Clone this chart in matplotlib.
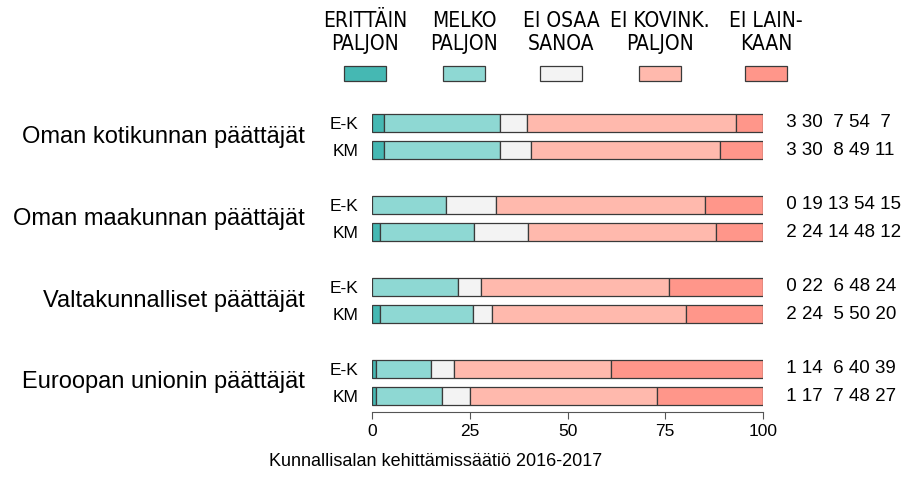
import matplotlib.pyplot as plt
import matplotlib.transforms as mtransforms
import numpy as np

groups = ["Oman kotikunnan päättäjät", "Oman maakunnan päättäjät",
          "Valtakunnalliset päättäjät", "Euroopan unionin päättäjät"]
rows = ["E-K", "KM"]
categories = ["ERITTÄIN\nPALJON", "MELKO\nPALJON", "EI OSAA\nSANOA",
              "EI KOVINK.\nPALJON", "EI LAIN-\nKAAN"]
colors = ["#45B8B3", "#8ED8D3", "#F3F3F3", "#FFB9AD", "#FF968A"]

# percentages per row: E-K then KM for each group
values = [
    [3, 30, 7, 54, 7],
    [3, 30, 8, 49, 11],
    [0, 19, 13, 54, 15],
    [2, 24, 14, 48, 12],
    [0, 22, 6, 48, 24],
    [2, 24, 5, 50, 20],
    [1, 14, 6, 40, 39],
    [1, 17, 7, 48, 27],
]
caption = "Kunnallisalan kehittämissäätiö 2016-2017"

W, H = 916, 482
fig = plt.figure(figsize=(W / 100, H / 100), dpi=100)
ax = fig.add_axes([372 / W, (H - 412) / H, 391 / W, 312 / H])

ypos = []
for g in range(len(groups)):
    ypos += [g * 3, g * 3 + 1]

for i, v in enumerate(values):
    v = np.array(v, dtype=float)
    v = v / v.sum() * 100
    left = 0
    for j, w in enumerate(v):
        if w > 0:
            ax.barh(ypos[i], w, left=left, height=0.66, color=colors[j],
                    edgecolor="#3a3a3a", linewidth=0.9)
        left += w
    txt = " ".join("%2d" % x for x in values[i])
    ax.text(104.7, ypos[i], txt, ha="left", va="center", fontsize=13.5,
            family="Liberation Sans")

ax.set_xlim(0, 100)
ax.set_ylim(10.58, -0.84)
ax.set_yticks(ypos)
ax.set_yticklabels(rows * len(groups), fontsize=12.5, family="Liberation Sans")
ax.tick_params(axis="y", length=0, pad=10)
ax.set_xticks([0, 25, 50, 75, 100])
ax.tick_params(axis="x", length=5, color="#555555", labelsize=12.5, pad=4)
for lab in ax.get_xticklabels():
    lab.set_family("Liberation Sans")
for s in ["top", "right", "left"]:
    ax.spines[s].set_visible(False)
ax.spines["bottom"].set_color("#555555")
ax.spines["bottom"].set_bounds(0, 100)

trans = mtransforms.blended_transform_factory(fig.transFigure, ax.transData)
for g, name in enumerate(groups):
    ax.text(305 / W, g * 3 + 0.5, name, transform=trans, ha="right",
            va="center", fontsize=17, family="Liberation Sans")

# legend
centers = [365, 464, 561, 660, 766]
for c, lab, col in zip(centers, categories, colors):
    fig.text(c / W, 1 - 32.5 / H, lab, ha="center", va="center", fontsize=15,
             family="DejaVu Sans", fontstretch="condensed",
             linespacing=1.2)
    fig.patches.append(plt.Rectangle(((c - 21) / W, 1 - 81 / H), 42 / W, 15 / H,
                                     transform=fig.transFigure, facecolor=col,
                                     edgecolor="#3a3a3a", linewidth=0.9))

fig.text(436 / W, 1 - 461 / H, caption, ha="center", va="center",
         fontsize=13, family="Liberation Sans")

fig.savefig("out.png", dpi=100)
